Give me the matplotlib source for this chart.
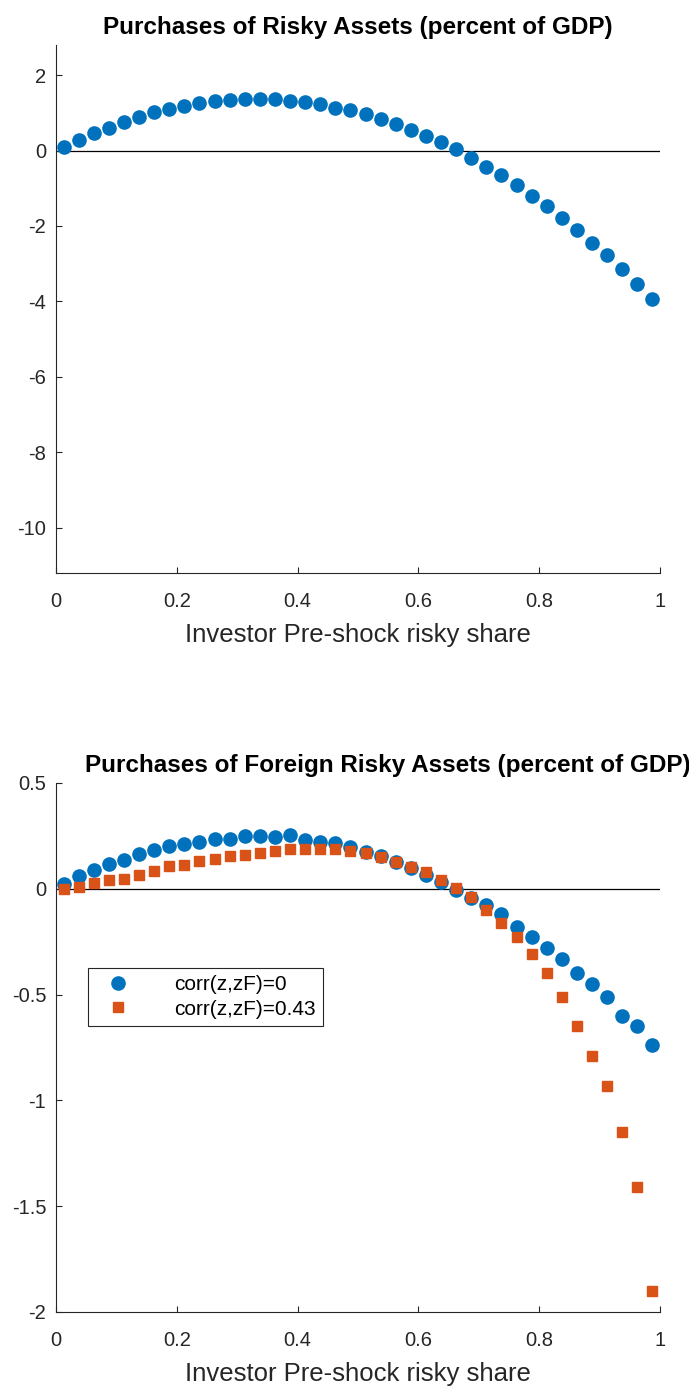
import numpy as np
from matplotlib import pyplot as plt

x = np.arange(0.0125, 1.0, 0.025)

risky = [0.10, 0.29, 0.46, 0.61, 0.77, 0.89, 1.02, 1.11, 1.19, 1.27,
         1.31, 1.33, 1.36, 1.36, 1.36, 1.32, 1.29, 1.24, 1.14, 1.08,
         0.97, 0.84, 0.71, 0.55, 0.39, 0.22, 0.03, -0.20, -0.43, -0.66,
         -0.92, -1.20, -1.48, -1.78, -2.11, -2.44, -2.78, -3.15, -3.54, -3.94]

foreign_corr0 = [0.022, 0.058, 0.088, 0.115, 0.135, 0.165, 0.183, 0.200, 0.213, 0.220,
                 0.236, 0.236, 0.248, 0.248, 0.245, 0.252, 0.232, 0.223, 0.215, 0.199,
                 0.175, 0.154, 0.128, 0.096, 0.063, 0.030, -0.005, -0.042, -0.079, -0.12,
                 -0.18, -0.23, -0.28, -0.33, -0.40, -0.45, -0.51, -0.60, -0.65, -0.74]

foreign_corr43 = [0.0, 0.01, 0.026, 0.04, 0.048, 0.067, 0.082, 0.106, 0.111, 0.131,
                  0.139, 0.154, 0.159, 0.168, 0.178, 0.186, 0.186, 0.188, 0.188, 0.178,
                  0.170, 0.149, 0.125, 0.104, 0.079, 0.043, 0.003, -0.04, -0.10, -0.16,
                  -0.23, -0.31, -0.40, -0.51, -0.65, -0.79, -0.93, -1.15, -1.41, -1.90]

blue = "#0072BD"
orange = "#D95319"

plt.rcParams["font.family"] = ["Liberation Sans", "DejaVu Sans"]

fig = plt.figure(figsize=(6.89, 13.87), dpi=100)
ax1 = fig.add_axes([0.0813, 0.5869, 0.8766, 0.3807])
ax2 = fig.add_axes([0.0813, 0.0541, 0.8766, 0.3814])

for ax in (ax1, ax2):
    ax.spines["top"].set_visible(False)
    ax.spines["right"].set_visible(False)
    ax.spines["left"].set_color("#262626")
    ax.spines["bottom"].set_color("#262626")
    ax.tick_params(direction="in", length=4, colors="#262626", labelsize=14.5)
    ax.tick_params(axis="x", pad=14)
    ax.tick_params(axis="y", pad=7)
    ax.axhline(0, color="black", lw=0.9, zorder=1)
    ax.set_xlim(0, 1)
    ax.set_xticks([0, 0.2, 0.4, 0.6, 0.8, 1])
    ax.set_xticklabels(["0", "0.2", "0.4", "0.6", "0.8", "1"])
    ax.set_xlabel("Investor Pre-shock risky share", fontsize=18.5, color="#262626", labelpad=8)

ax1.plot(x, risky, "o", color=blue, ms=9.5, zorder=3)
ax1.set_ylim(-11.2, 2.8)
ax1.set_yticks([-10, -8, -6, -4, -2, 0, 2])
ax1.set_yticklabels(["-10", "-8", "-6", "-4", "-2", "0", "2"])
ax1.set_title("Purchases of Risky Assets (percent of GDP)", fontsize=17.5, fontweight="bold", pad=8)

ax2.plot(x, foreign_corr0, "o", color=blue, ms=9.5, zorder=3, label="corr(z,zF)=0")
ax2.plot(x, foreign_corr43, "s", color=orange, ms=7.5, zorder=4, label="corr(z,zF)=0.43")
ax2.set_ylim(-2, 0.5)
ax2.set_yticks([-2, -1.5, -1, -0.5, 0, 0.5])
ax2.set_yticklabels(["-2", "-1.5", "-1", "-0.5", "0", "0.5"])
ax2.set_title("Purchases of Foreign Risky Assets (percent of GDP)", fontsize=17.5,
              fontweight="bold", pad=8, x=0.55)
leg = ax2.legend(loc="upper left", bbox_to_anchor=(0.053, 0.650), borderaxespad=0, fontsize=15,
                 fancybox=False, edgecolor="#262626", framealpha=1, handletextpad=1.6,
                 borderpad=0.35, labelspacing=0.25, handlelength=2.2)
leg.get_frame().set_linewidth(0.8)

fig.savefig("out.png", dpi=100)
